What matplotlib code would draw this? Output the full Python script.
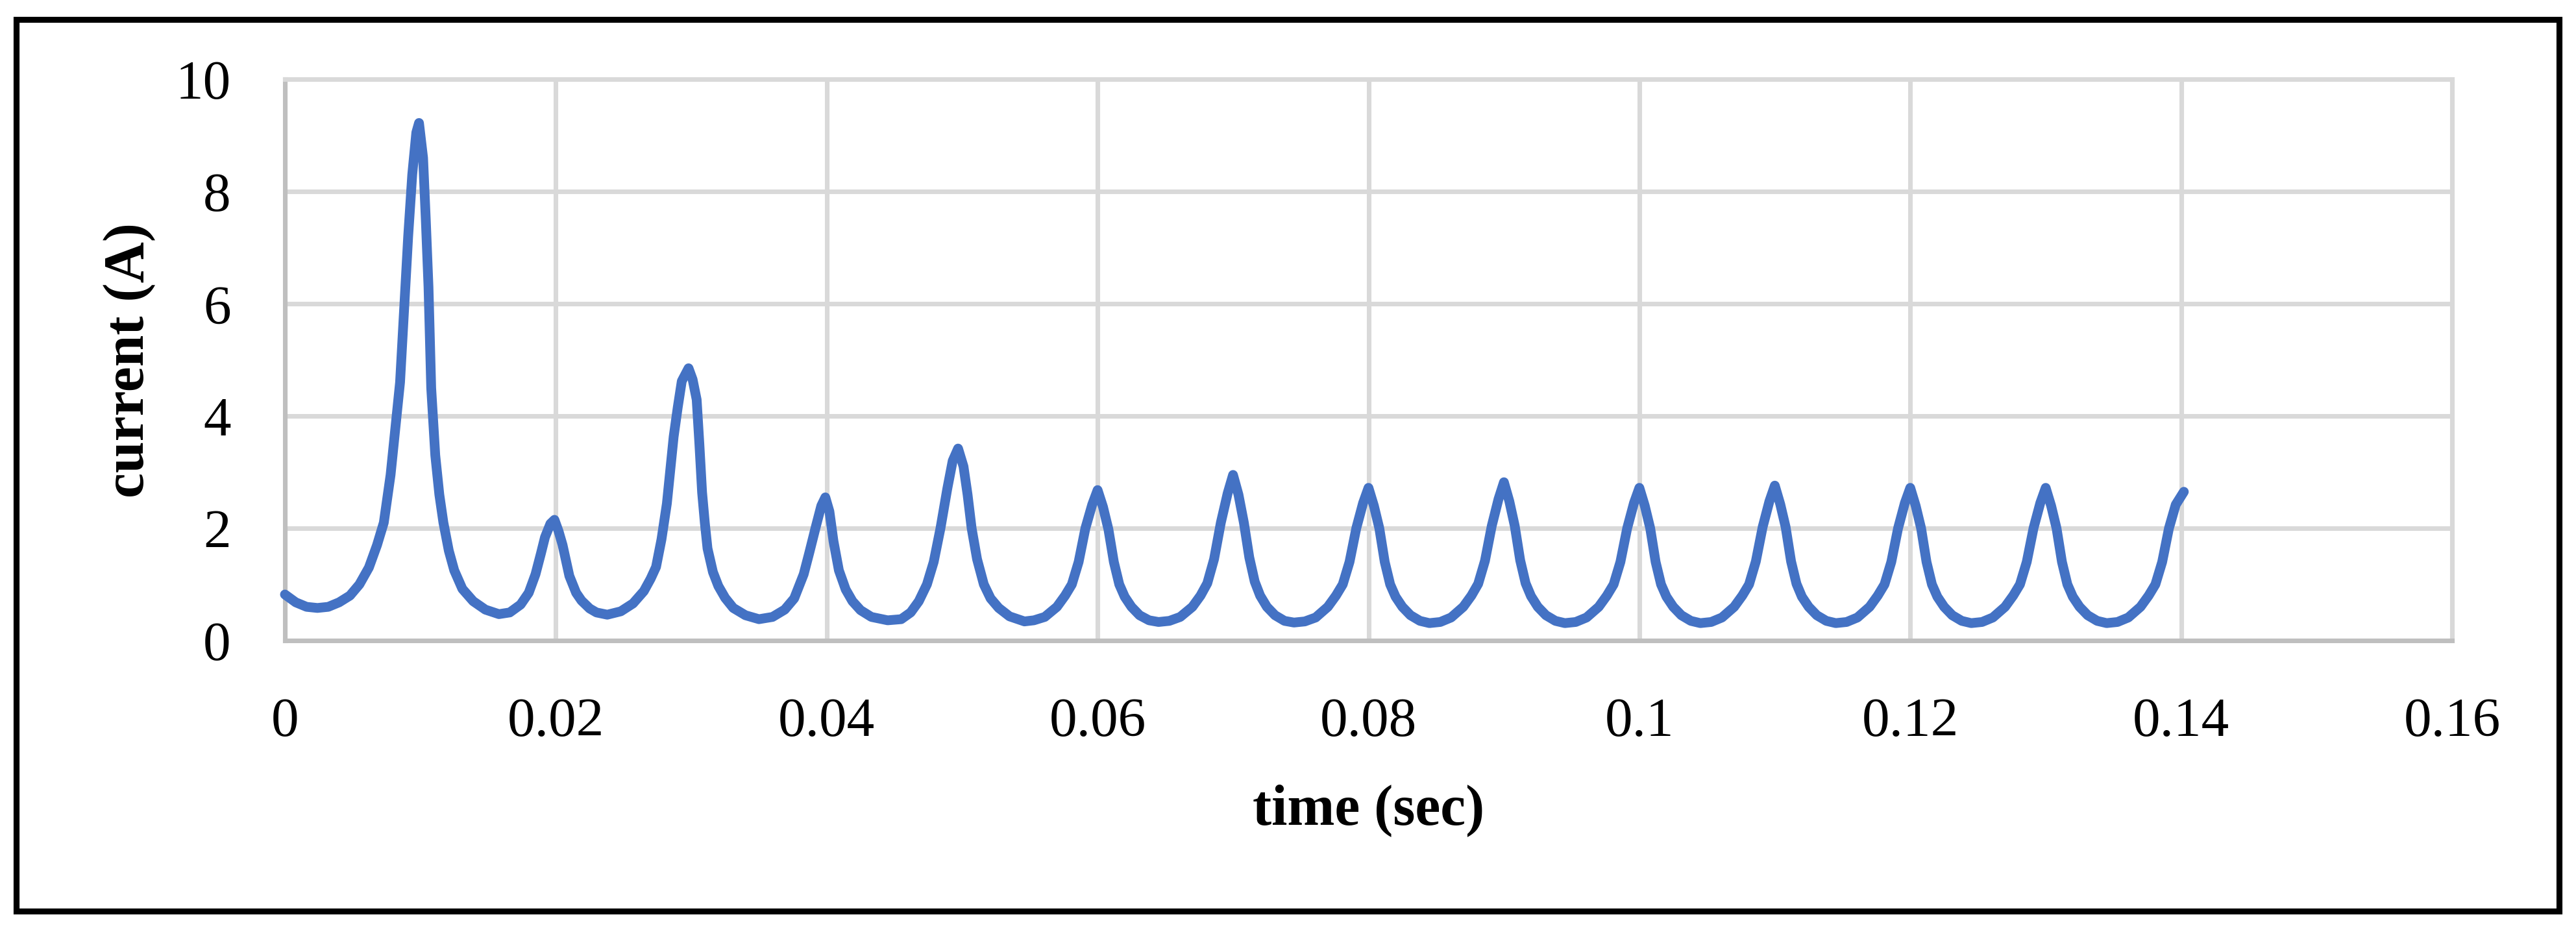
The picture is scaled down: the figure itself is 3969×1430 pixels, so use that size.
import matplotlib
matplotlib.use("Agg")
import matplotlib.pyplot as plt
from matplotlib.patches import Rectangle

# time in ms, current in A
t_ms = [
    0.0, 0.8, 1.6, 2.4, 3.2, 4.0, 4.8, 5.5, 6.2, 6.8, 7.3, 7.8, 8.2, 8.5, 8.8, 9.1, 9.4, 9.7, 9.9,
    10.2, 10.4, 10.6, 10.8, 11.1, 11.4, 11.7, 12.1, 12.5, 13.1, 13.9, 14.8, 15.8,
    16.6, 17.4, 18.0, 18.5, 18.9, 19.2, 19.6, 19.9, 20.2, 20.5, 21.0, 21.5, 21.9, 22.5, 23.0, 23.8,
    24.8, 25.7, 26.5, 27.0, 27.4, 27.8, 28.2, 28.7, 29.0, 29.3, 29.8, 30.1, 30.4, 30.6, 30.8, 31.0,
    31.2, 31.6, 32.0, 32.5, 33.1, 34.0, 35.0,
    36.0, 36.9, 37.6, 38.3, 38.7, 39.2, 39.6, 39.9, 40.2, 40.5, 40.9, 41.4, 41.9, 42.5, 43.3, 44.5,
    45.5, 46.2, 46.8, 47.4, 47.9, 48.4, 48.9, 49.3, 49.7, 50.1, 50.4, 50.7, 51.1, 51.6, 52.1, 52.7,
    53.5, 54.6,
    55.3, 56.1, 57.0, 57.6, 58.1, 58.6, 59.1, 59.6, 60.0, 60.4, 60.8, 61.2, 61.6, 62.0, 62.5, 63.1, 63.8, 64.5,
    65.3, 66.1, 67.0, 67.6, 68.1, 68.6, 69.1, 69.6, 70.0, 70.4, 70.8, 71.2, 71.6, 72.0, 72.5, 73.1, 73.8, 74.5,
    75.3, 76.1, 77.0, 77.6, 78.1, 78.6, 79.1, 79.6, 80.0, 80.4, 80.8, 81.2, 81.6, 82.0, 82.5, 83.1, 83.8, 84.5,
    85.3, 86.1, 87.0, 87.6, 88.1, 88.6, 89.1, 89.6, 90.0, 90.4, 90.8, 91.2, 91.6, 92.0, 92.5, 93.1, 93.8, 94.5,
    95.3, 96.1, 97.0, 97.6, 98.1, 98.6, 99.1, 99.6, 100.0, 100.4, 100.8, 101.2, 101.6, 102.0, 102.5, 103.1, 103.8, 104.5,
    105.3, 106.1, 107.0, 107.6, 108.1, 108.6, 109.1, 109.6, 110.0, 110.4, 110.8, 111.2, 111.6, 112.0, 112.5, 113.1, 113.8, 114.5,
    115.3, 116.1, 117.0, 117.6, 118.1, 118.6, 119.1, 119.6, 120.0, 120.4, 120.8, 121.2, 121.6, 122.0, 122.5, 123.1, 123.8, 124.5,
    125.3, 126.1, 127.0, 127.6, 128.1, 128.6, 129.1, 129.6, 130.0, 130.4, 130.8, 131.2, 131.6, 132.0, 132.5, 133.1, 133.8, 134.5,
    135.3, 136.1, 137.0, 137.6, 138.1, 138.6, 139.1, 139.6, 140.2,
]
current = [
    0.82, 0.68, 0.60, 0.58, 0.60, 0.68, 0.80, 1.00, 1.30, 1.70, 2.10, 2.95, 3.90, 4.60, 5.90, 7.20, 8.30, 9.05, 9.22,
    8.60, 7.50, 6.30, 4.50, 3.30, 2.60, 2.10, 1.60, 1.25, 0.92, 0.70, 0.55, 0.47,
    0.50, 0.64, 0.85, 1.18, 1.55, 1.84, 2.08, 2.15, 1.95, 1.70, 1.15, 0.85, 0.71, 0.57, 0.50, 0.46,
    0.52, 0.66, 0.88, 1.10, 1.31, 1.80, 2.44, 3.63, 4.15, 4.62, 4.85, 4.65, 4.29, 3.50, 2.64, 2.10,
    1.64, 1.22, 0.97, 0.76, 0.58, 0.45, 0.38,
    0.42, 0.55, 0.75, 1.18, 1.55, 2.03, 2.40, 2.55, 2.30, 1.77, 1.25, 0.91, 0.70, 0.54, 0.42, 0.36,
    0.38, 0.50, 0.70, 1.00, 1.40, 2.00, 2.70, 3.20, 3.42, 3.10, 2.60, 2.00, 1.45, 1.00, 0.75, 0.58,
    0.43, 0.34,
    0.36, 0.42, 0.60, 0.80, 1.00, 1.40, 2.00, 2.42, 2.68, 2.38, 1.98, 1.40, 1.00, 0.78, 0.60, 0.45, 0.36, 0.33,
    0.35, 0.42, 0.60, 0.80, 1.02, 1.45, 2.10, 2.62, 2.95, 2.60, 2.10, 1.48, 1.05, 0.80, 0.60, 0.45, 0.35, 0.32,
    0.34, 0.41, 0.60, 0.80, 1.00, 1.40, 2.00, 2.45, 2.72, 2.40, 2.00, 1.40, 1.00, 0.78, 0.60, 0.45, 0.35, 0.31,
    0.33, 0.41, 0.60, 0.80, 1.01, 1.42, 2.04, 2.52, 2.82, 2.48, 2.04, 1.43, 1.02, 0.79, 0.60, 0.45, 0.35, 0.31,
    0.33, 0.41, 0.60, 0.80, 1.00, 1.40, 2.00, 2.45, 2.72, 2.40, 2.00, 1.40, 1.00, 0.78, 0.60, 0.45, 0.35, 0.31,
    0.33, 0.41, 0.60, 0.80, 1.00, 1.41, 2.02, 2.48, 2.76, 2.43, 2.02, 1.41, 1.01, 0.78, 0.60, 0.45, 0.35, 0.31,
    0.33, 0.41, 0.60, 0.80, 1.00, 1.40, 2.00, 2.45, 2.72, 2.40, 2.00, 1.40, 1.00, 0.78, 0.60, 0.45, 0.35, 0.31,
    0.33, 0.41, 0.60, 0.80, 1.00, 1.40, 2.00, 2.45, 2.72, 2.40, 2.00, 1.40, 1.00, 0.78, 0.60, 0.45, 0.35, 0.31,
    0.33, 0.41, 0.60, 0.80, 1.00, 1.40, 2.00, 2.42, 2.65,
]
time_s = [v / 1000 for v in t_ms]

x_ticks = [0, 0.02, 0.04, 0.06, 0.08, 0.1, 0.12, 0.14, 0.16]
x_labels = ["0", "0.02", "0.04", "0.06", "0.08", "0.1", "0.12", "0.14", "0.16"]
y_ticks = [0, 2, 4, 6, 8, 10]

plt.rcParams["font.family"] = ["Liberation Serif", "DejaVu Serif"]

W, H = 3969, 1431
fig = plt.figure(figsize=(W / 300, H / 300), dpi=300)
ax = fig.add_axes([439 / W, 1 - 988 / H, (3778 - 439) / W, (988 - 123) / H])

ax.plot(time_s, current, color="#4472C4", lw=3.6, solid_joinstyle="round",
        solid_capstyle="round", zorder=3, clip_on=False)

ax.set_xlim(0, 0.16)
ax.set_ylim(0, 10)
ax.set_xticks(x_ticks)
ax.set_xticklabels(x_labels)
ax.set_yticks(y_ticks)
ax.grid(True, color="#d9d9d9", lw=1.7)
ax.set_axisbelow(True)
for s in ["left", "bottom"]:
    ax.spines[s].set_color("#bfbfbf")
    ax.spines[s].set_linewidth(1.7)
for s in ["top", "right"]:
    ax.spines[s].set_color("#d9d9d9")
    ax.spines[s].set_linewidth(1.7)
ax.tick_params(length=0, labelsize=20.5, colors="black")
ax.tick_params(axis="x", pad=21)
ax.tick_params(axis="y", pad=20)

ax.set_xlabel("time (sec)", fontsize=21, fontweight="bold")
ax.xaxis.set_label_coords(0.5, -(1249 - 988) / (988 - 123))
ax.xaxis.label.set_va("center")
ax.set_ylabel("current (A)", fontsize=21, fontweight="bold")
ax.yaxis.set_label_coords(-(439 - 200) / (3778 - 439), 0.5)
ax.yaxis.label.set_va("center")

# outer frame
fig.patches.append(Rectangle((25 / W, 1 - 1405 / H), (3943 - 25) / W, (1405 - 31) / H,
                             transform=fig.transFigure, fill=False, ec="black", lw=2.2))

fig.savefig("out.png", dpi=300)
